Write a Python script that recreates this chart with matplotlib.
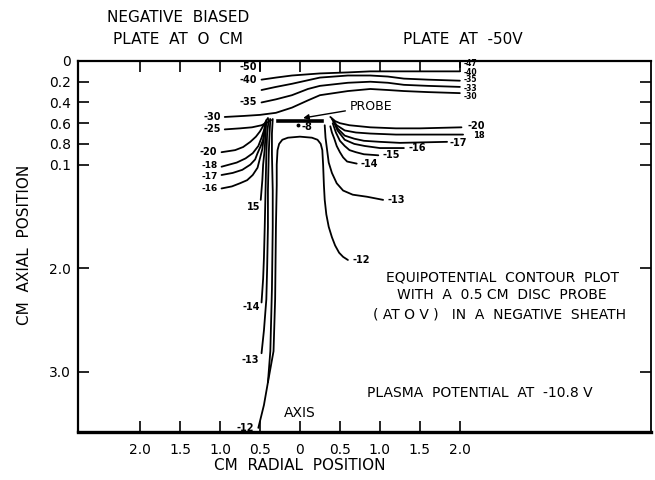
import matplotlib
matplotlib.use("Agg")
import matplotlib.pyplot as plt

# radial position (cm, signed) and axial position (cm) of each hand-drawn equipotential
c40_x = [-0.48, -0.30, -0.10, 0.25, 0.60, 0.88, 1.50, 2.00]
c40_y = [0.18, 0.16, 0.14, 0.12, 0.11, 0.10, 0.10, 0.10]
c37_x = [-0.48, -0.30, -0.10, 0.25, 0.60, 0.88, 1.10, 1.30, 1.60, 2.00]
c37_y = [0.28, 0.25, 0.22, 0.16, 0.14, 0.14, 0.15, 0.17, 0.18, 0.19]
c35_x = [-0.48, -0.30, -0.10, 0.10, 0.25, 0.60, 0.88, 1.10, 1.30, 1.60, 2.00]
c35_y = [0.40, 0.37, 0.33, 0.27, 0.24, 0.21, 0.20, 0.21, 0.23, 0.24, 0.25]
c30_x = [-0.94, -0.70, -0.50, -0.30, -0.10, 0.10, 0.25, 0.60, 0.88, 1.10, 1.30, 1.60, 2.00]
c30_y = [0.54, 0.53, 0.52, 0.50, 0.45, 0.38, 0.33, 0.29, 0.27, 0.28, 0.29, 0.30, 0.31]

# left of the probe
l25_x = [-0.94, -0.75, -0.60, -0.48, -0.40, -0.36]
l25_y = [0.66, 0.65, 0.64, 0.62, 0.59, 0.57]
l20_x = [-0.98, -0.81, -0.71, -0.62, -0.55, -0.50, -0.44, -0.40]
l20_y = [0.88, 0.86, 0.83, 0.78, 0.73, 0.68, 0.60, 0.55]
l18_x = [-0.98, -0.79, -0.68, -0.59, -0.52, -0.48, -0.45, -0.43]
l18_y = [1.02, 0.98, 0.94, 0.89, 0.82, 0.74, 0.67, 0.60]
l17_x = [-0.98, -0.84, -0.72, -0.62, -0.56, -0.53, -0.49, -0.46, -0.43]
l17_y = [1.10, 1.08, 1.05, 1.00, 0.95, 0.89, 0.82, 0.76, 0.62]
l16_x = [-0.98, -0.85, -0.75, -0.66, -0.59, -0.53, -0.50, -0.47, -0.44]
l16_y = [1.23, 1.21, 1.18, 1.15, 1.10, 1.03, 0.94, 0.85, 0.66]
l15_x = [-0.42, -0.43, -0.44, -0.46, -0.47, -0.49]
l15_y = [0.57, 0.70, 0.85, 1.00, 1.15, 1.34]
l14_x = [-0.39, -0.41, -0.42, -0.43, -0.44, -0.45, -0.46, -0.48]
l14_y = [0.56, 0.70, 0.90, 1.25, 1.60, 1.90, 2.10, 2.33]
l13_x = [-0.37, -0.38, -0.39, -0.40, -0.40, -0.41, -0.42, -0.45, -0.48]
l13_y = [0.56, 0.70, 0.90, 1.25, 1.60, 2.00, 2.30, 2.60, 2.82]
l12_x = [-0.34, -0.35, -0.35, -0.34, -0.34, -0.35, -0.37, -0.40, -0.45, -0.52]
l12_y = [0.56, 0.70, 0.90, 1.25, 1.60, 2.20, 2.80, 3.10, 3.32, 3.54]

# inner loop under the probe (-12 on the right)
u12_x = [-0.40, -0.33, -0.31, -0.30, -0.29, -0.29, -0.28, -0.26, -0.22, -0.15, 0.00,
         0.15, 0.22, 0.26, 0.28, 0.29, 0.30, 0.31, 0.33, 0.36, 0.40, 0.44, 0.49, 0.54, 0.60]
u12_y = [3.10, 2.80, 2.30, 1.60, 1.20, 1.00, 0.86, 0.80, 0.76, 0.74, 0.73,
         0.74, 0.76, 0.80, 0.86, 1.00, 1.20, 1.34, 1.48, 1.60, 1.70, 1.78, 1.85, 1.89, 1.92]

# right of the probe
r20_x = [0.38, 0.44, 0.50, 0.62, 0.88, 1.20, 1.50, 2.02]
r20_y = [0.54, 0.58, 0.60, 0.62, 0.64, 0.65, 0.65, 0.64]
r18_x = [0.40, 0.46, 0.56, 0.70, 0.88, 1.20, 1.50, 2.04]
r18_y = [0.56, 0.62, 0.67, 0.69, 0.70, 0.71, 0.71, 0.71]
r17_x = [0.41, 0.47, 0.56, 0.68, 0.80, 1.00, 1.25, 1.84]
r17_y = [0.57, 0.65, 0.72, 0.75, 0.77, 0.78, 0.79, 0.78]
r16_x = [0.42, 0.47, 0.56, 0.68, 0.81, 1.00, 1.30]
r16_y = [0.58, 0.67, 0.76, 0.80, 0.82, 0.84, 0.84]
r15_x = [0.41, 0.45, 0.50, 0.56, 0.62, 0.70, 0.80, 0.98]
r15_y = [0.60, 0.69, 0.77, 0.82, 0.86, 0.88, 0.90, 0.91]
r14_x = [0.38, 0.40, 0.43, 0.46, 0.50, 0.54, 0.59, 0.71]
r14_y = [0.63, 0.69, 0.75, 0.82, 0.88, 0.93, 0.97, 0.99]
r13_x = [0.31, 0.32, 0.34, 0.36, 0.40, 0.46, 0.54, 0.66, 0.84, 1.04]
r13_y = [0.62, 0.74, 0.86, 0.98, 1.08, 1.18, 1.25, 1.29, 1.31, 1.34]

probe_x = [-0.27, 0.27]
probe_y = [0.58, 0.58]

x_ticks = [-2.0, -1.5, -1.0, -0.5, 0.0, 0.5, 1.0, 1.5, 2.0]
x_labels = ["2.0", "1.5", "1.0", "0.5", "0", "0.5", "1.0", "1.5", "2.0"]
y_ticks = [0.0, 0.2, 0.4, 0.6, 0.8, 1.0, 2.0, 3.0]
y_labels = ["0", "0.2", "0.4", "0.6", "0.8", "0.1", "2.0", "3.0"]

plt.rcParams["font.family"] = "DejaVu Sans"
fig = plt.figure(figsize=(6.55, 4.8), dpi=100)
ax = fig.add_axes([78 / 655, 1 - 432 / 480, (651 - 78) / 655, (432 - 61) / 480])
ax.set_xlim(-2.775, 4.39)
ax.set_ylim(3.58, 0)

lines = [
    (c40_x, c40_y), (c37_x, c37_y), (c35_x, c35_y), (c30_x, c30_y),
    (l25_x, l25_y), (l20_x, l20_y), (l18_x, l18_y), (l17_x, l17_y), (l16_x, l16_y),
    (l15_x, l15_y), (l14_x, l14_y), (l13_x, l13_y), (l12_x, l12_y), (u12_x, u12_y),
    (r20_x, r20_y), (r18_x, r18_y), (r17_x, r17_y), (r16_x, r16_y),
    (r15_x, r15_y), (r14_x, r14_y), (r13_x, r13_y),
]
for xs, ys in lines:
    ax.plot(xs, ys, color="black", lw=1.3, solid_capstyle="round", solid_joinstyle="round")
ax.plot(probe_x, probe_y, color="black", lw=2.6)

kw = dict(fontweight="bold", textcoords="offset points")

def lab(txt, xs, ys, end, dx, dy, ha="right", size=7):
    i = 0 if end == "start" else -1
    ax.annotate(txt, (xs[i], ys[i]), xytext=(dx, dy), ha=ha, va="center",
                fontsize=size, **kw)

# left-hand labels
lab("-40", c40_x, c40_y, "start", -3, 0)
lab("-35", c35_x, c35_y, "start", -3, 0)
lab("-30", c30_x, c30_y, "start", -3, 0)
lab("-25", l25_x, l25_y, "start", -3, 0)
lab("-20", l20_x, l20_y, "start", -3, 0)
lab("-18", l18_x, l18_y, "start", -3, 1.0, size=6.5)
lab("-17", l17_x, l17_y, "start", -3, -1.0, size=6.5)
lab("-16", l16_x, l16_y, "start", -3, 0, size=6.5)
lab("15", l15_x, l15_y, "end", 0, -5)
lab("-14", l14_x, l14_y, "end", -1, -3)
lab("-13", l13_x, l13_y, "end", -2, -5)
lab("-12", l12_x, l12_y, "end", -3, 0)
# right-hand labels (crowded, as in the original)
lab("-40", c40_x, c40_y, "end", 3, -0.5, "left", 5.5)
lab("-35", c37_x, c37_y, "end", 3, 0.5, "left", 5.5)
lab("-33", c35_x, c35_y, "end", 3, -1.0, "left", 5.5)
lab("-30", c30_x, c30_y, "end", 3, -2.5, "left", 5.5)
lab("-20", r20_x, r20_y, "end", 4, 1, "left")
lab("18", r18_x, r18_y, "end", 7, -1, "left", 6)
lab("-17", r17_x, r17_y, "end", 2, -1, "left")
lab("-16", r16_x, r16_y, "end", 3, 0, "left")
lab("-15", r15_x, r15_y, "end", 3, 0, "left")
lab("-14", r14_x, r14_y, "end", 3, 0, "left")
lab("-13", r13_x, r13_y, "end", 3, 0, "left")
lab("-12", u12_x, u12_y, "end", 3, 0, "left")

# plate potentials marked with a small tick
ax.plot([-0.5, -0.5], [0.02, 0.09], color="black", lw=1.2)
ax.annotate("-50", (-0.5, 0.06), xytext=(-2, 0), ha="right", va="center", fontsize=7, **kw)
ax.plot([2.0, 2.0], [0.01, 0.06], color="black", lw=1.2)
ax.annotate("-47", (2.0, 0.02), xytext=(3, 0), ha="left", va="center", fontsize=5.5, **kw)

ax.plot([-0.03], [0.62], marker="o", ms=1.8, color="black")
ax.annotate("-8", (0.02, 0.64), xytext=(0, 0), ha="left", va="center", fontsize=7, **kw)

ax.annotate("PROBE", xy=(0.04, 0.55), xytext=(0.62, 0.44), fontsize=9,
            va="center", ha="left",
            arrowprops=dict(arrowstyle="-|>", color="black", lw=1.0,
                            mutation_scale=8, shrinkA=1, shrinkB=0))

ax.text(0.0, 3.40, "AXIS", fontsize=10, ha="center", va="center")
ax.text(2.53, 2.09, "EQUIPOTENTIAL  CONTOUR  PLOT", fontsize=10, ha="center", va="center")
ax.text(2.53, 2.26, "WITH  A  0.5 CM  DISC  PROBE", fontsize=10, ha="center", va="center")
ax.text(2.50, 2.45, "( AT O V )   IN  A  NEGATIVE  SHEATH", fontsize=10, ha="center", va="center")
ax.text(2.25, 3.20, "PLASMA  POTENTIAL  AT  -10.8 V", fontsize=10, ha="center", va="center")

ax.set_xticks(x_ticks)
ax.set_xticklabels(x_labels)
ax.set_yticks(y_ticks)
ax.set_yticklabels(y_labels)
ax.tick_params(direction="in", length=8, width=1.2, labelsize=10,
               top=True, right=True)
ax.tick_params(axis="x", pad=8)
ax.tick_params(axis="y", pad=5)
ax.yaxis.get_major_ticks()[0].tick1line.set_visible(False)
ax.yaxis.get_major_ticks()[0].tick2line.set_visible(False)
for side, w in [("bottom", 2.4), ("left", 1.6), ("top", 1.6), ("right", 1.3)]:
    ax.spines[side].set_linewidth(w)

fig.text(300 / 655, 1 - 465 / 480, "CM  RADIAL  POSITION", fontsize=11, ha="center", va="center")
fig.text(25 / 655, 1 - 245 / 480, "CM  AXIAL  POSITION", rotation=90,
         fontsize=11, ha="center", va="center")
fig.text(178 / 655, 1 - 17 / 480, "NEGATIVE  BIASED", fontsize=11, ha="center", va="center")
fig.text(178 / 655, 1 - 39 / 480, "PLATE  AT  O  CM", fontsize=11, ha="center", va="center")
fig.text(463 / 655, 1 - 39 / 480, "PLATE  AT  -50V", fontsize=11, ha="center", va="center")

fig.savefig("out.png", dpi=100)
